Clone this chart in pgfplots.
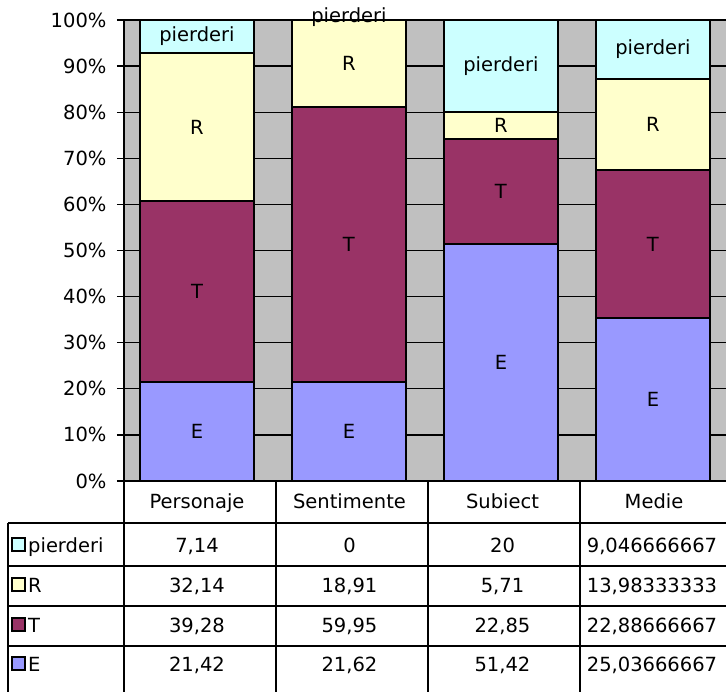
\documentclass[border=0pt]{standalone}
\usepackage{fontspec}
\setmainfont{DejaVu Sans}
\usepackage{pgfplots}
\pgfplotsset{compat=1.18}
\usepackage{pgfplotstable}

\definecolor{cPierd}{HTML}{CCFFFF}
\definecolor{cR}{HTML}{FFFFCC}
\definecolor{cT}{HTML}{993366}
\definecolor{cE}{HTML}{9999FF}
\definecolor{plotgray}{HTML}{C0C0C0}

\newcommand{\tfont}{\fontsize{19.5}{23}\selectfont}

% shares in percent of each column total (100% stacked)
\pgfplotstableread{
x E      T      R      P
0 21.424 39.288 32.146 7.141
1 21.517 59.664 18.820 0
2 51.430 22.855 5.711  20.004
3 35.288 32.257 19.709 12.751
}\shares

\begin{document}
\begin{tikzpicture}
\pgfplotsset{
  chartgeom/.style={
    at={(124pt,-481pt)}, anchor=south west,
    scale only axis, width=611pt, height=461pt,
    xmin=-0.48, xmax=3.54, ymin=0, ymax=100,
  },
}
\begin{axis}[
    chartgeom,
    ybar stacked, bar width=0.75,
    axis background/.style={fill=plotgray},
    ymajorgrids, grid style={black, line width=1.3pt},
    axis line style={black, line width=1.3pt},
    xtick=\empty,
    ytick={0,10,...,100},
    /pgf/number format/assume math mode=true,
    yticklabel={\pgfmathprintnumber{\tick}\%},
    ticklabel style={font=\tfont},
    yticklabel style={xshift=-7pt},
    tick align=outside, ytick pos=left, major tick length=7pt,
    tick style={black, line width=1.3pt},
]
\addplot[fill=cE, draw=black, line width=2pt] table[x=x, y=E] {\shares};
\addplot[fill=cT, draw=black, line width=2pt] table[x=x, y=T] {\shares};
\addplot[fill=cR, draw=black, line width=2pt] table[x=x, y=R] {\shares};
\addplot[fill=cPierd, draw=black, line width=2pt] table[x=x, y=P] {\shares};
\end{axis}

% segment labels, centred in each segment
\begin{axis}[chartgeom, hide axis, clip=false]
\addplot[draw=none, mark=none, nodes near coords, point meta=explicit symbolic,
  every node near coord/.append style={anchor=center, font=\tfont, black}]
  coordinates {
    (0,10.71)[E] (0,41.07)[T] (0,76.78)[R] (0,96.43)[pierderi]
    (1,10.76)[E] (1,51.35)[T] (1,90.59)[R] (1,100.6)[pierderi]
    (2,25.71)[E] (2,62.86)[T] (2,77.14)[R] (2,90.0)[pierderi]
    (3,17.64)[E] (3,51.42)[T] (3,77.40)[R] (3,93.64)[pierderi]
  };
\end{axis}

% data table
\begin{scope}[black, line width=1.2pt]
  \draw (124pt,-481pt) -- (740pt,-481pt);
  \foreach \yy in {523,566,606,646}
    \draw (8pt,-\yy pt) -- (740pt,-\yy pt);
  \foreach \xx in {124,276,428,580}
    \draw (\xx pt,-481pt) -- (\xx pt,-692pt);
  \draw (8pt,-523pt) -- (8pt,-692pt);
\end{scope}

\begin{scope}[every node/.style={font=\tfont, inner sep=0pt, anchor=base}]
  \node at (197pt,-509pt) {Personaje};
  \node at (349.5pt,-509pt) {Sentimente};
  \node at (502.5pt,-509pt) {Subiect};
  \node at (654pt,-509pt) {Medie};

  \node at (197pt,-552pt) {7,14};
  \node at (349.5pt,-552pt) {0};
  \node at (502.5pt,-552pt) {20};
  \node at (652pt,-552pt) {9,046666667};

  \node at (197pt,-592pt) {32,14};
  \node at (349.5pt,-592pt) {18,91};
  \node at (502.5pt,-592pt) {5,71};
  \node at (652pt,-592pt) {13,98333333};

  \node at (197pt,-632pt) {39,28};
  \node at (349.5pt,-632pt) {59,95};
  \node at (502.5pt,-632pt) {22,85};
  \node at (652pt,-632pt) {22,88666667};

  \node at (197pt,-671pt) {21,42};
  \node at (349.5pt,-671pt) {21,62};
  \node at (502.5pt,-671pt) {51,42};
  \node at (652pt,-671pt) {25,03666667};

  \node[anchor=base west] at (28pt,-552pt) {pierderi};
  \node[anchor=base west] at (28pt,-592pt) {R};
  \node[anchor=base west] at (28pt,-632pt) {T};
  \node[anchor=base west] at (28pt,-671pt) {E};
\end{scope}

% legend keys
\foreach \b/\c in {552/cPierd,592/cR,632/cT,671/cE}
  \draw[black, line width=1.2pt, fill=\c] (12pt,-\b pt+1pt) rectangle (25pt,-\b pt+14pt);

\pgfresetboundingbox
\useasboundingbox (0,0) rectangle (726pt,-692pt);
\end{tikzpicture}
\end{document}
